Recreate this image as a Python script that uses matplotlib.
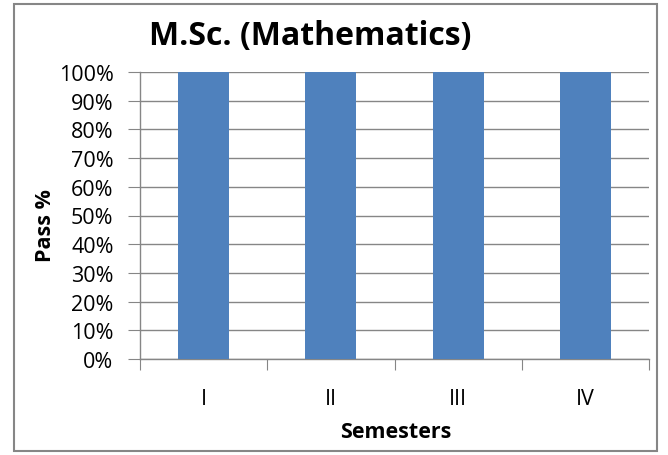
import matplotlib
matplotlib.use("Agg")
import matplotlib.pyplot as plt
from matplotlib.patches import Rectangle
from matplotlib.ticker import FixedLocator, FuncFormatter

categories = ["I", "II", "III", "IV"]
pass_pct = [100, 100, 100, 100]
yticks = [0, 10, 20, 30, 40, 50, 60, 70, 80, 90, 100]

plt.rcParams['font.family'] = ['Open Sans', 'DejaVu Sans']

fig = plt.figure(figsize=(6.68, 4.56), dpi=100)
ax = fig.add_axes([140/668, 96/456, 509/668, 287/456])

x = list(range(len(categories)))
ax.bar(x, pass_pct, width=0.40, color="#4F81BD", zorder=3)

ax.set_xlim(-0.5, len(categories) - 0.5)
ax.set_ylim(0, 100)
ax.set_yticks(yticks)
ax.yaxis.set_major_formatter(FuncFormatter(lambda v, p: f"{int(v)}%"))
ax.grid(axis="y", color="#868686", lw=1, zorder=0)

ax.xaxis.set_major_locator(FixedLocator([i - 0.5 for i in range(len(categories) + 1)]))
ax.xaxis.set_major_formatter(FuncFormatter(lambda v, p: ""))
ax.xaxis.set_minor_locator(FixedLocator(x))
ax.set_xticklabels(categories, minor=True)
ax.tick_params(axis="x", which="minor", length=0, pad=21, labelsize=15.5)
ax.tick_params(axis="x", which="major", length=8, color="#868686", direction="out")
ax.tick_params(axis="y", length=9, color="#868686", labelsize=15.5, pad=10)

for s in ["top", "right"]:
    ax.spines[s].set_visible(False)
for s in ["left", "bottom"]:
    ax.spines[s].set_color("#868686")
    ax.spines[s].set_linewidth(1)

ax.set_xlabel("Semesters", fontsize=15.5, fontweight="bold")
ax.xaxis.set_label_coords(0.503, -0.215)
ax.set_ylabel("Pass %", fontsize=15.5, fontweight="bold")
ax.yaxis.set_label_coords(-0.165, 0.467)
fig.text(310/668, 1 - 37/456, "M.Sc. (Mathematics)", fontsize=23, fontweight="bold",
         ha="center", va="center")

fig.patches.append(Rectangle((14/668, 4/456), 643/668, 447/456, transform=fig.transFigure,
                             fill=False, edgecolor="#868686", lw=1.5))

fig.savefig("out.png", dpi=100)
